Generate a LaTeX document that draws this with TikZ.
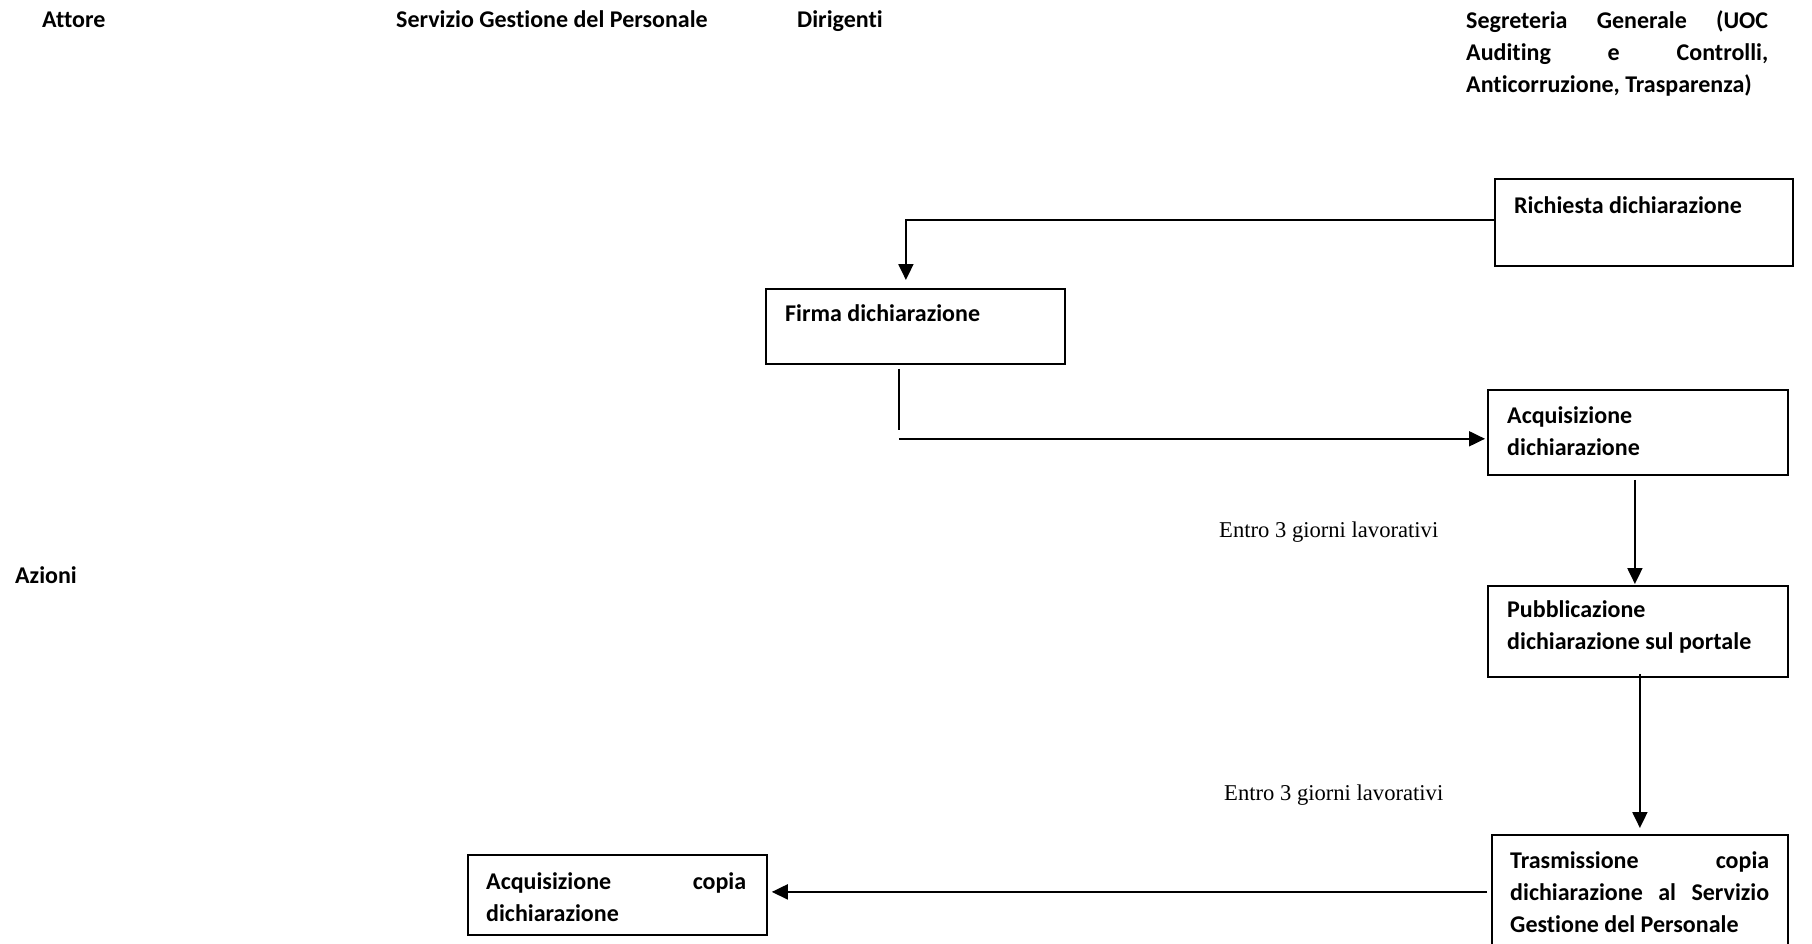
\documentclass[tikz,border=0pt]{standalone}
\usepackage{fontspec}
\setmainfont{Carlito}[Ligatures=NoCommon]
\newfontfamily\notefont{Liberation Serif}
\usetikzlibrary{arrows.meta}
\begin{document}
\begin{tikzpicture}[x=1pt,y=-1pt,
  box/.style={draw, line width=1.8pt, rectangle, inner sep=0pt, anchor=north west},
  lbl/.style={inner sep=0pt, anchor=base west, font=\fontsize{24}{32}\selectfont\bfseries},
  blk/.style={lbl, text width=#1, align=flush left},
  note/.style={inner sep=0pt, anchor=base west, font=\notefont\fontsize{22.6}{26}\selectfont},
  flow/.style={line width=2pt, -{Triangle[length=16pt,width=15pt]}},
  wire/.style={line width=1.5pt}]
\useasboundingbox (0,0) rectangle (1812,944);
\clip (0,0) rectangle (1812,944);

% column headers
\node[lbl] (h1) at (42,28) {Attore};
\node[lbl] (h2) at (396,28) {Servizio Gestione del Personale};
\node[lbl] (h3) at (797,28) {Dirigenti};
\node[blk=302pt] (h4) at (1466,28.5) {Segreteria\hfill Generale\hfill (UOC\\ Auditing\hfill e\hfill Controlli,\\ Anticorruzione, Trasparenza)};
\node[lbl] (az) at (15,583) {Azioni};

% process boxes
\node[box, minimum width=298pt, minimum height=87pt] (rq) at (1494,178) {};
\node[box, minimum width=299pt, minimum height=75pt] (fd) at (765,288) {};
\node[box, minimum width=300pt, minimum height=85pt] (aq) at (1487,389) {};
\node[box, minimum width=300pt, minimum height=91pt] (pb) at (1487,585) {};
\node[box, minimum width=296pt, minimum height=140pt] (tr) at (1491,834) {};
\node[box, minimum width=299pt, minimum height=80pt] (ac) at (467,854) {};

% box texts
\node[lbl] (rqt) at (1514,213.5) {Richiesta dichiarazione};
\node[lbl] (fdt) at (785,321) {Firma dichiarazione};
\node[blk=260pt] (aqt) at (1507,423) {Acquisizione\\ dichiarazione};
\node[blk=260pt] (pbt) at (1507,617) {Pubblicazione\\ dichiarazione sul portale};
\node[blk=259pt] (trt) at (1510,868) {Trasmissione\hfill copia\\ dichiarazione\hfill al\hfill Servizio\\ Gestione del Personale};
\node[blk=260pt] (act) at (486,889) {Acquisizione\hfill copia\\ dichiarazione};

% time notes
\node[note] (n1) at (1219,537) {Entro 3 giorni lavorativi};
\node[note] (n2) at (1224,800) {Entro 3 giorni lavorativi};

% connectors
\draw[flow] ([yshift=2pt]rq.west) -| ([xshift=-9.5pt,yshift=8pt]fd.north);
\draw[wire] ([xshift=-16.5pt,yshift=-4pt]fd.south) -- ++(0,61);
\draw[flow] ([xshift=-16.5pt,yshift=-74pt]fd.south) coordinate (f0) -- ([xshift=-2pt]aq.west |- f0);
\draw[flow] ([xshift=-3pt,yshift=-4pt]aq.south) -- ([xshift=-3pt,yshift=1pt]pb.north);
\draw[flow] ([xshift=2pt,yshift=4pt]pb.south) -- ([yshift=6pt]tr.north);
\draw[flow] ([xshift=-4pt,yshift=13pt]tr.west) coordinate (t0) -- ([xshift=4pt]ac.east |- t0);
\end{tikzpicture}
\end{document}
